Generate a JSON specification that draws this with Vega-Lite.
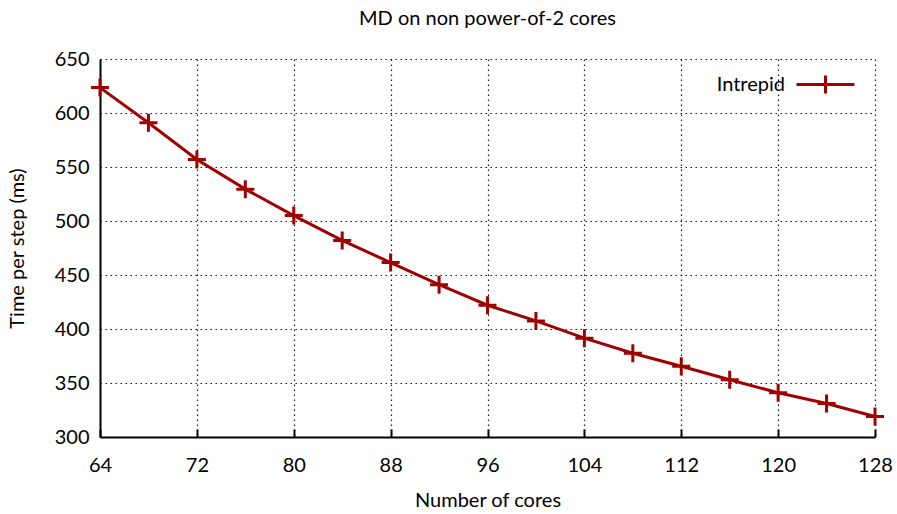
{
  "$schema": "https://vega.github.io/schema/vega-lite/v6.json",
  "width": 775,
  "height": 378,
  "autosize": {"type": "none"},
  "padding": {"left": 100, "top": 59, "right": 22, "bottom": 77},
  "background": "white",
  "title": {"text": "MD on non power-of-2 cores", "font": "Lato", "fontSize": 20, "fontWeight": "normal", "color": "black", "offset": 20},
  "config": {
    "view": {"stroke": null},
    "font": "Lato",
    "axis": {
      "labelFont": "Lato", "titleFont": "Lato", "labelFontSize": 20, "titleFontSize": 20,
      "titleFontWeight": "normal", "labelColor": "black", "titleColor": "black",
      "domainColor": "black", "domainWidth": 2, "tickColor": "black", "tickWidth": 2,
      "grid": true, "gridColor": "black", "gridDash": [1.5, 3.5], "gridWidth": 1.2, "gridOpacity": 0.9
    }
  },
  "data": {"values": [
    {"cores": 64, "time": 623.5, "series": "Intrepid"},
    {"cores": 68, "time": 591, "series": "Intrepid"},
    {"cores": 72, "time": 557, "series": "Intrepid"},
    {"cores": 76, "time": 529.5, "series": "Intrepid"},
    {"cores": 80, "time": 505, "series": "Intrepid"},
    {"cores": 84, "time": 482, "series": "Intrepid"},
    {"cores": 88, "time": 461.5, "series": "Intrepid"},
    {"cores": 92, "time": 441, "series": "Intrepid"},
    {"cores": 96, "time": 422, "series": "Intrepid"},
    {"cores": 100, "time": 407.5, "series": "Intrepid"},
    {"cores": 104, "time": 391.5, "series": "Intrepid"},
    {"cores": 108, "time": 377.5, "series": "Intrepid"},
    {"cores": 112, "time": 365.5, "series": "Intrepid"},
    {"cores": 116, "time": 353, "series": "Intrepid"},
    {"cores": 120, "time": 341, "series": "Intrepid"},
    {"cores": 124, "time": 331, "series": "Intrepid"},
    {"cores": 128, "time": 319, "series": "Intrepid"}
  ]},
  "encoding": {
    "x": {"field": "cores", "type": "quantitative",
      "scale": {"domain": [64, 128], "nice": false, "zero": false},
      "axis": {"values": [64, 72, 80, 88, 96, 104, 112, 120, 128], "title": "Number of cores", "titlePadding": 15, "labelPadding": 26, "tickSize": -8, "labelFlush": false}},
    "y": {"field": "time", "type": "quantitative",
      "scale": {"domain": [300, 650], "nice": false, "zero": false},
      "axis": {"values": [300, 350, 400, 450, 500, 550, 600, 650], "title": "Time per step (ms)", "titlePadding": 27, "labelPadding": 11, "ticks": false}},
    "color": {"field": "series", "type": "nominal", "scale": {"range": ["#a00000"]},
      "legend": {"title": null, "orient": "none", "legendX": 695, "legendY": -5,
        "symbolType": "M-1,0H1M0,-0.31V0.31", "symbolSize": 3364, "symbolStrokeWidth": 3,
        "symbolStrokeColor": "#a00000", "symbolFillColor": "transparent",
        "labelFont": "Lato", "labelFontSize": 20, "labelColor": "black",
        "labelAlign": "right", "labelOffset": -71, "padding": 0, "offset": 0}}
  },
  "layer": [
    {"mark": {"type": "line", "strokeWidth": 3}},
    {"mark": {"type": "point", "shape": "M-1,0H1M0,-1V1", "size": 324, "strokeWidth": 3, "filled": false, "opacity": 1}}
  ]
}
